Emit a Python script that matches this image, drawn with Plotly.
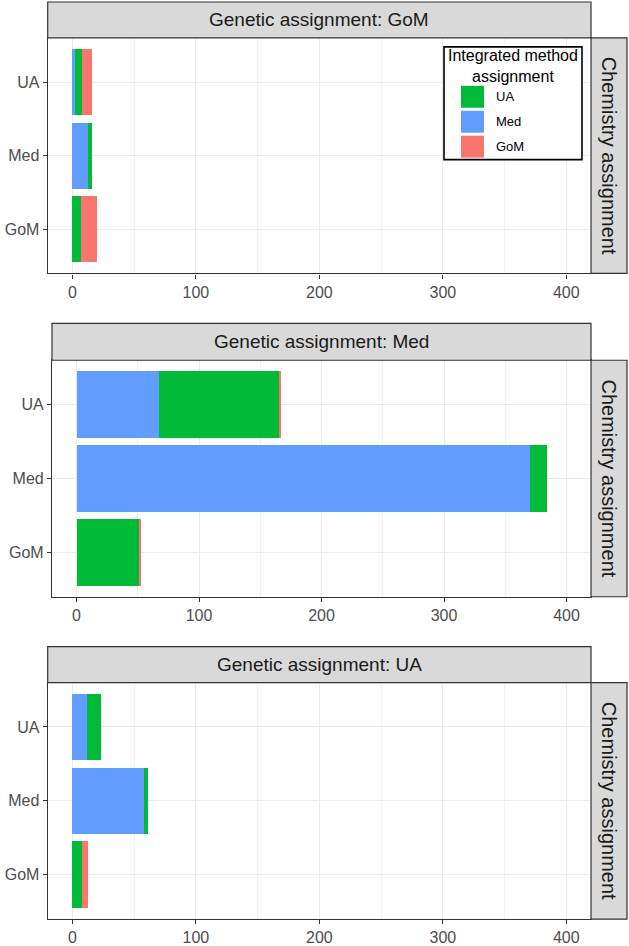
import plotly.graph_objects as go

W, H = 629, 946

# ---------------- data ----------------
chem_levels = ["UA", "Med", "GoM"]          # chemistry assignment (y categories)
genetic_panels = ["GoM", "Med", "UA"]       # facet panels, top to bottom
legend_levels = ["UA", "Med", "GoM"]        # integrated method assignment
stack_order = ["Med", "UA", "GoM"]          # left-to-right stacking
colors = {"UA": "#00BA38", "Med": "#619CFF", "GoM": "#F8766D"}
x_ticks = [0, 100, 200, 300, 400]

# values per chemistry level (UA, Med, GoM) for each integrated level
gom_int_med = [2, 13, 0]
gom_int_ua = [6, 3, 7]
gom_int_gom = [8, 0, 13]

med_int_med = [67, 370, 0]
med_int_ua = [99, 14, 51]
med_int_gom = [1, 0, 2]

ua_int_med = [12, 58, 0]
ua_int_ua = [11, 3, 8]
ua_int_gom = [0, 0, 5]

counts = {
    "GoM": {"Med": gom_int_med, "UA": gom_int_ua, "GoM": gom_int_gom},
    "Med": {"Med": med_int_med, "UA": med_int_ua, "GoM": med_int_gom},
    "UA": {"Med": ua_int_med, "UA": ua_int_ua, "GoM": ua_int_gom},
}

# ---------------- layout geometry (pixels) ----------------
panels = [
    dict(x0=47.7, x1=591, y0=38, y1=274, st=2),
    dict(x0=52, x1=591, y0=361, y1=598, st=324),
    dict(x0=47.7, x1=591, y0=684, y1=921, st=648),
]
strip_right = 627

def px(x):
    return x / W

def py(y):
    return 1 - y / H

FONT = "Liberation Sans, Arial, sans-serif"
fig = go.Figure()
shapes = []
annotations = []

for i, (g, p) in enumerate(zip(genetic_panels, panels), start=1):
    xa = "x" if i == 1 else f"x{i}"
    ya = "y" if i == 1 else f"y{i}"
    for lvl in stack_order:
        fig.add_trace(go.Bar(
            y=chem_levels, x=counts[g][lvl], orientation="h",
            marker=dict(color=colors[lvl], line=dict(width=0)),
            name=lvl, showlegend=False, xaxis=xa, yaxis=ya,
        ))
    axis_common = dict(showline=True, mirror=True, linecolor="#333333", linewidth=1.2,
                       ticks="outside", ticklen=4, tickcolor="#333333", tickwidth=1.1,
                       tickfont=dict(family=FONT, size=16, color="#4D4D4D"),
                       gridcolor="#EBEBEB", gridwidth=1.1, zeroline=False)
    fig.layout[f"xaxis{'' if i == 1 else i}"] = dict(
        domain=[px(p["x0"]), px(p["x1"])], anchor=ya, range=[-20, 420],
        tickvals=x_ticks,
        minor=dict(dtick=50, tick0=0, showgrid=True, gridcolor="#F2F2F2", gridwidth=0.6, ticks=""),
        **axis_common)
    fig.layout[f"yaxis{'' if i == 1 else i}"] = dict(
        domain=[py(p["y1"]), py(p["y0"])], anchor=xa, range=[-0.6, 2.6],
        type="category", categoryorder="array", categoryarray=chem_levels[::-1],
        **axis_common)
    # top strip
    shapes.append(dict(type="rect", xref="paper", yref="paper",
                       x0=px(p["x0"]), x1=px(p["x1"]), y0=py(p["y0"]), y1=py(p["st"]),
                       fillcolor="#D9D9D9", line=dict(color="#333333", width=1.2), layer="above"))
    annotations.append(dict(xref="paper", yref="paper", x=px((p["x0"] + p["x1"]) / 2),
                            y=py((p["y0"] + p["st"]) / 2), text=f"Genetic assignment: {g}",
                            showarrow=False, font=dict(family=FONT, size=19, color="#1A1A1A"),
                            xanchor="center", yanchor="middle"))
    # right strip
    shapes.append(dict(type="rect", xref="paper", yref="paper",
                       x0=px(p["x1"]), x1=px(strip_right), y0=py(p["y1"]), y1=py(p["y0"]),
                       fillcolor="#D9D9D9", line=dict(color="#333333", width=1.2), layer="above"))
    annotations.append(dict(xref="paper", yref="paper", x=px((p["x1"] + strip_right) / 2),
                            y=py((p["y0"] + p["y1"]) / 2), text="Chemistry assignment",
                            textangle=90, showarrow=False,
                            font=dict(family=FONT, size=20, color="#1A1A1A"),
                            xanchor="center", yanchor="middle"))

# ---------------- manual legend (inside top panel) ----------------
lg = dict(x0=444, x1=582, y0=47, y1=160)
shapes.append(dict(type="rect", xref="paper", yref="paper",
                   x0=px(lg["x0"]), x1=px(lg["x1"]), y0=py(lg["y1"]), y1=py(lg["y0"]),
                   fillcolor="white", line=dict(color="black", width=1.6), layer="above"))
annotations.append(dict(xref="paper", yref="paper", x=px((lg["x0"] + lg["x1"]) / 2), y=py(66),
                        text="Integrated method<br>assignment", showarrow=False,
                        font=dict(family=FONT, size=16, color="black"),
                        xanchor="center", yanchor="middle"))
for k, lvl in enumerate(legend_levels):
    top = 86 + k * 25
    shapes.append(dict(type="rect", xref="paper", yref="paper",
                       x0=px(461), x1=px(484), y0=py(top + 22), y1=py(top),
                       fillcolor=colors[lvl], line=dict(width=0), layer="above"))
    annotations.append(dict(xref="paper", yref="paper", x=px(494), y=py(top + 11), text=lvl,
                            showarrow=False, font=dict(family=FONT, size=13, color="black"),
                            xanchor="left", yanchor="middle"))

fig.update_layout(
    width=W, height=H, margin=dict(l=0, r=0, t=0, b=0),
    barmode="stack", bargap=0.1,
    plot_bgcolor="white", paper_bgcolor="white",
    shapes=shapes, annotations=annotations, showlegend=False,
)

fig.write_html(
    "out.html",
    config={"displayModeBar": False},
    post_script="document.body.style.margin='0';document.body.style.overflow='hidden';",
)
